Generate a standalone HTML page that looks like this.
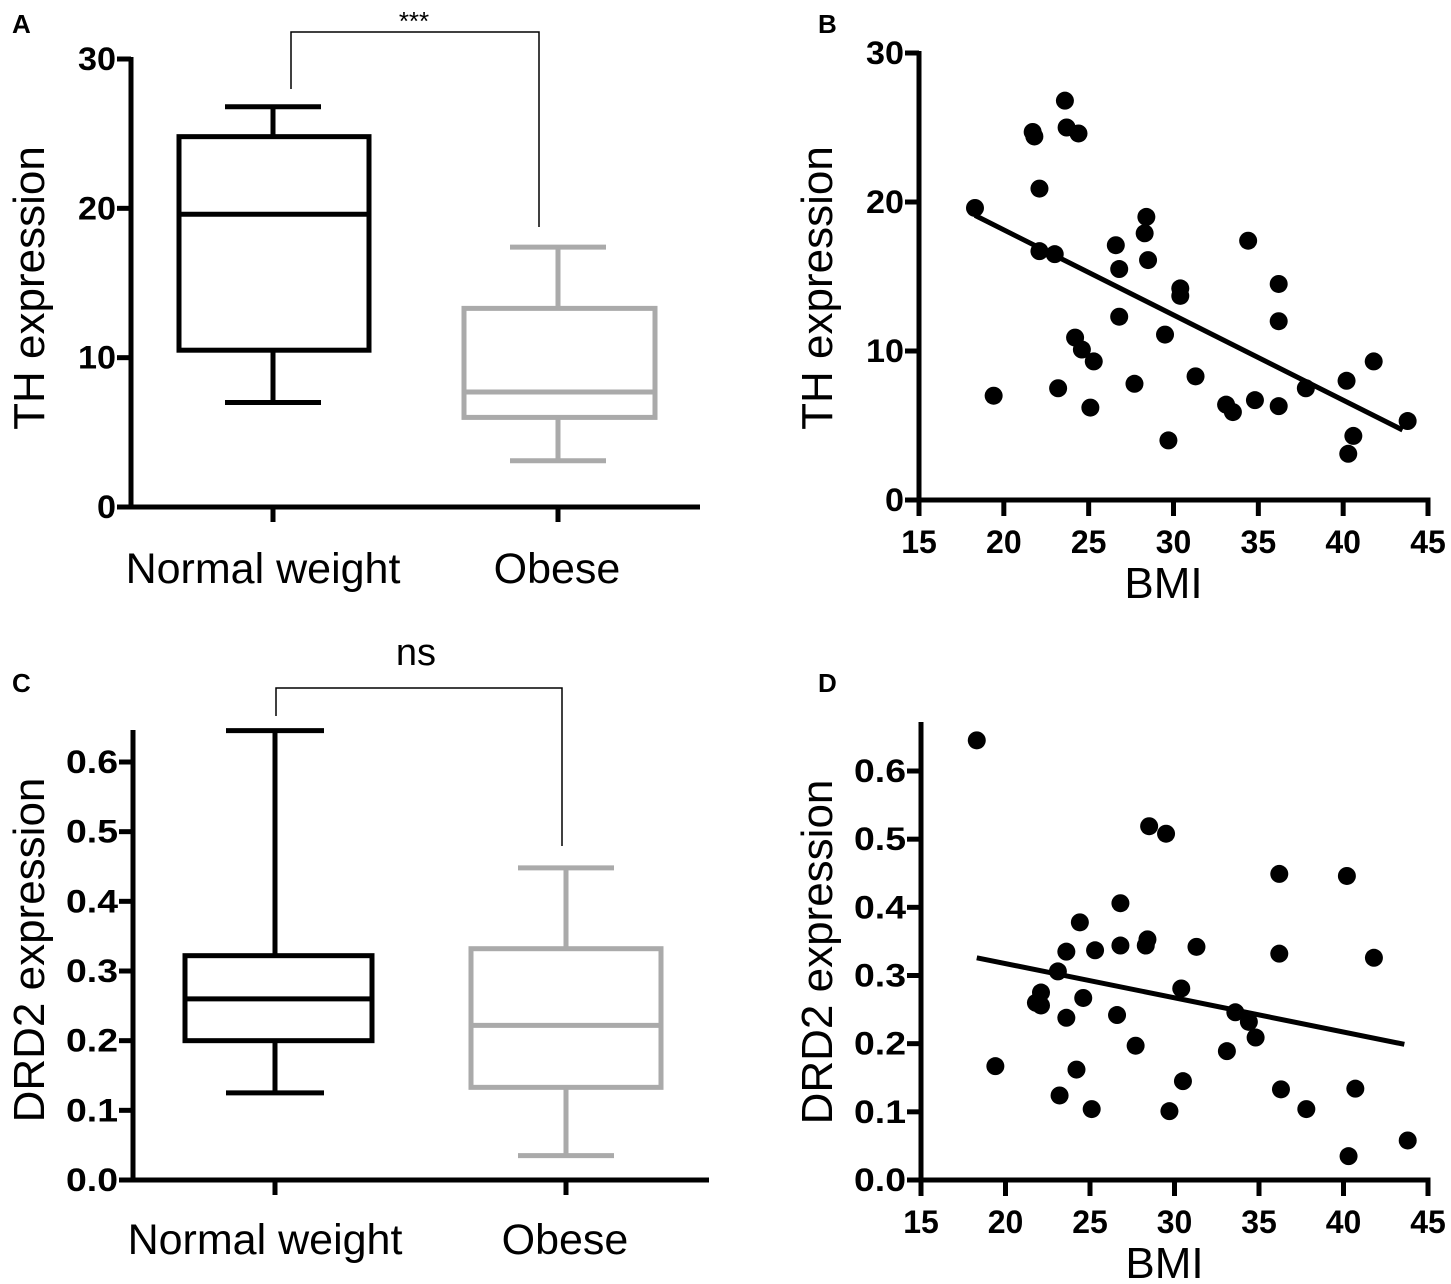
<!DOCTYPE html>
<html><head><meta charset="utf-8"><style>
body{margin:0;background:#fff}
svg{display:block}
text{font-family:"Liberation Sans",Arial,sans-serif}
.tk{font-weight:bold;font-size:32px}
</style></head><body>
<svg id="s" width="1451" height="1284" viewBox="0 0 1451 1284"></svg>
<script>
const boxCats=["Normal weight","Obese"];
const thNormal=[7.0,10.5,19.6,24.8,26.8];
const thObese=[3.1,6.0,7.7,13.3,17.4];
const drdNormal=[0.125,0.2,0.26,0.322,0.645];
const drdObese=[0.035,0.133,0.222,0.332,0.448];
const thTicks=[0,10,20,30];
const drdTicks=[0.0,0.1,0.2,0.3,0.4,0.5,0.6];
const bmiTicks=[15,20,25,30,35,40,45];
const bmiTH=[18.3,19.4,21.7,21.8,22.1,22.1,23.0,23.2,23.6,23.7,24.2,24.4,24.6,25.3,25.1,26.6,26.8,26.8,27.7,28.3,28.4,28.5,29.5,29.7,30.4,30.4,31.3,33.1,33.5,34.4,34.8,36.2,36.2,36.2,37.8,40.2,40.3,40.6,41.8,43.8];
const thVals=[19.6,7.0,24.7,24.4,20.9,16.7,16.5,7.5,26.8,25.0,10.9,24.6,10.1,9.3,6.2,17.1,15.5,12.3,7.8,17.9,19.0,16.1,11.1,4.0,14.2,13.7,8.3,6.4,5.9,17.4,6.7,14.5,12.0,6.3,7.5,8.0,3.1,4.3,9.3,5.3];
const thFit=[[18.3,19.1],[43.5,4.7]];
const bmiD=[18.3,19.4,21.8,22.1,22.1,23.1,23.2,23.6,23.6,24.2,24.4,24.6,25.3,25.1,26.6,26.8,26.8,27.7,28.3,28.4,28.5,29.5,29.7,30.4,30.5,31.3,33.1,33.6,34.4,34.8,36.2,36.2,36.3,37.8,40.2,40.3,40.7,41.8,43.8];
const drdVals=[0.645,0.167,0.26,0.275,0.256,0.306,0.124,0.335,0.238,0.162,0.378,0.267,0.337,0.104,0.242,0.406,0.344,0.197,0.344,0.353,0.519,0.508,0.101,0.281,0.145,0.342,0.189,0.246,0.232,0.209,0.449,0.332,0.133,0.104,0.446,0.035,0.134,0.326,0.058];
const drdFit=[[18.3,0.326],[43.6,0.199]];

const S=document.getElementById('s');
const NS='http://www.w3.org/2000/svg';
function el(t,a,txt){const e=document.createElementNS(NS,t);for(const k in a)e.setAttribute(k,a[k]);if(txt!==undefined)e.textContent=txt;S.appendChild(e);return e;}
function line(x1,y1,x2,y2,c,w,name){const e=el('line',{x1,y1,x2,y2,stroke:c,'stroke-width':w,'stroke-linecap':'butt'});

return e;}
function text(x,y,s,cls,name,extra){const a=Object.assign({x,y},extra||{});if(cls)a['class']=cls;const e=el('text',a,s);

return e;}

function yAxis(ax,y0,y1,v0,v1){return v=>y0+(v-v0)/(v1-v0)*(y1-y0);}

function boxPanel(o){
  const Y=yAxis(null,o.y0,o.y1,o.v0,o.v1);
  line(o.ax,o.top,o.ax,o.y0+2.5,'#000',5,'y-axis');
  line(o.ax-2.5,o.y0,o.xend,o.y0,'#000',5,'x-axis');
  o.ticks.forEach((t,i)=>{line(o.ax-14,Y(t),o.ax,Y(t),'#000',5,'y-tick');
    text(o.ax-15,Y(t)+11,o.fmt(t),'tk','y-tick-label',{'text-anchor':'end','textLength':o.fmt(t).length>1?(o.fmt(t).length===2?38:52):19,'lengthAdjust':'spacingAndGlyphs'});});
  o.cx.forEach((c,i)=>{line(c,o.y0,c,o.y0+15,'#000',5,'x-tick');
    text(c-10+(i?9:0),o.labY,boxCats[i],null,'x-category-label',{'text-anchor':'middle','font-size':'43'});});
  [o.a,o.b].forEach((d,i)=>{
    const c=o.cx[i],col=i?'#aaaaaa':'#000',bl=o.box[i][0],br=o.box[i][1],cw=o.cap[i];
    const nm=i?'obese-box':'normal-weight-box';
    line(c,Y(d[0]),c,Y(d[1]),col,5,nm+'-lower-whisker');
    line(c,Y(d[3]),c,Y(d[4]),col,5,nm+'-upper-whisker');
    line(c-cw,Y(d[0]),c+cw,Y(d[0]),col,5,nm+'-min-cap');
    line(c-cw,Y(d[4]),c+cw,Y(d[4]),col,5,nm+'-max-cap');
    const r=el('rect',{x:bl,y:Y(d[3]),width:br-bl,height:Y(d[1])-Y(d[3]),fill:'none',stroke:col,'stroke-width':5});
    
    
    line(bl,Y(d[2]),br,Y(d[2]),col,5,nm+'-median');
  });
  const p=el('polyline',{points:`${o.br[0]},${o.br[1]} ${o.br[0]},${o.br[2]} ${o.br[3]},${o.br[2]} ${o.br[3]},${o.br[4]}`,fill:'none',stroke:'#000','stroke-width':1.5});
  
  
  text(o.sig[0],o.sig[1],o.sig[2],null,'significance-label',{'text-anchor':'middle','font-size':o.sig[3]});
  text(o.ytx,o.yty,o.ytitle,null,'y-axis-title',{'text-anchor':'middle','font-size':'44',transform:`rotate(-90 ${o.ytx} ${o.yty})`});
}

function scatterPanel(o){
  const Y=yAxis(null,o.y0,o.y1,o.v0,o.v1);
  const X=v=>o.x0+(v-15)/(45-15)*(o.x1-o.x0);
  line(o.ax,o.top,o.ax,o.y0+2.5,'#000',5,'y-axis');
  line(o.ax-2.5,o.y0,o.x1+2.5,o.y0,'#000',5,'x-axis');
  o.ticks.forEach(t=>{line(o.ax-14,Y(t),o.ax,Y(t),'#000',5,'y-tick');
    text(o.ax-15,Y(t)+11,o.fmt(t),'tk','y-tick-label',{'text-anchor':'end','textLength':o.fmt(t).length>1?(o.fmt(t).length===2?38:52):19,'lengthAdjust':'spacingAndGlyphs'});});
  bmiTicks.forEach(t=>{line(X(t),o.y0,X(t),o.y0+16,'#000',5,'x-tick');
    text(X(t),o.y0+53,String(t),'tk','x-tick-label',{'text-anchor':'middle','font-size':'34'});});
  text((o.x0+o.x1)/2-10,o.y0+98,'BMI',null,'x-axis-title',{'text-anchor':'middle','font-size':'44'});
  text(o.ytx,o.yty,o.ytitle,null,'y-axis-title',{'text-anchor':'middle','font-size':'44',transform:`rotate(-90 ${o.ytx} ${o.yty})`});
  o.xs.forEach((x,i)=>{const c=el('circle',{cx:X(x),cy:Y(o.ys[i]),r:9,fill:'#000'});
    
    });
  line(X(o.fit[0][0]),Y(o.fit[0][1]),X(o.fit[1][0]),Y(o.fit[1][1]),'#000',5,'regression-line');
}

boxPanel({ax:131,y0:507,y1:59,v0:0,v1:30,top:57,xend:700,ticks:thTicks,fmt:t=>String(t),cx:[273,558],labY:583,
  a:thNormal,b:thObese,box:[[179,369],[464,655]],cap:[48,48],br:[291,89,32,539,227],sig:[414,30,'***','26'],
  ytx:44,yty:288,ytitle:'TH expression'});
boxPanel({ax:133,y0:1180,y1:762,v0:0,v1:0.6,top:730,xend:709,ticks:drdTicks,fmt:t=>t.toFixed(1),cx:[275,566],labY:1254,
  a:drdNormal,b:drdObese,box:[[185,372],[471,661]],cap:[49,48],br:[276,716,688,562,846],sig:[416,665,'ns','38'],
  ytx:44,yty:950,ytitle:'DRD2 expression'});
scatterPanel({ax:919,y0:500,y1:53,v0:0,v1:30,top:51,x0:919,x1:1428,ticks:thTicks,fmt:t=>String(t),
  ytx:832,yty:288,ytitle:'TH expression',xs:bmiTH,ys:thVals,fit:thFit});
scatterPanel({ax:921,y0:1180,y1:771,v0:0,v1:0.6,top:722,x0:921,x1:1428,ticks:drdTicks,fmt:t=>t.toFixed(1),
  ytx:832,yty:952,ytitle:'DRD2 expression',xs:bmiD,ys:drdVals,fit:drdFit});

[['A',12,33],['B',818,33],['C',12,692],['D',818,692]].forEach(p=>{
  text(p[1],p[2],p[0],null,'panel-label',{'font-size':'26','font-weight':'bold'});});
</script>
</body></html>
